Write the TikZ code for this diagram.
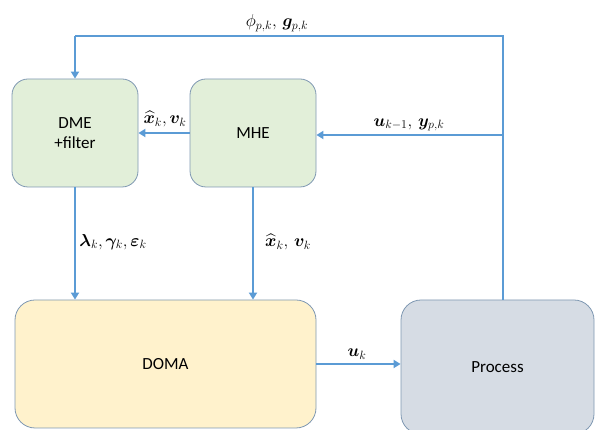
\documentclass[tikz,border=0pt]{standalone}
\usepackage{amsmath}
\usepackage{bm}
\usepackage{fontspec}
\setmainfont{Carlito}
\usetikzlibrary{arrows.meta}
\definecolor{lineblue}{HTML}{5B9BD5}
\definecolor{greenfill}{HTML}{E2EFD9}
\definecolor{yellowfill}{HTML}{FFF2CC}
\definecolor{greyfill}{HTML}{D6DCE4}
\definecolor{boxborder}{HTML}{7F98B2}
\tikzset{
  blockbox/.style={draw=boxborder, line width=0.8pt, rounded corners=16pt, align=center,
    font=\fontsize{17}{20}\selectfont, inner sep=0pt},
  conn/.style={draw=lineblue, line width=2.2pt},
  arr/.style={conn, -{Triangle[length=7pt,width=8pt]}},
  lab/.style={font=\fontsize{17}{19}\selectfont, inner sep=0pt}
}
\begin{document}
\begin{tikzpicture}[x=1pt,y=1pt]
\useasboundingbox (0,0) rectangle (595,430);
\clip (0,0) rectangle (595,430);
% boxes
\node[blockbox, fill=greenfill, minimum width=126pt, minimum height=108pt] (dme) at (75,297) {DME\\+filter};
\node[blockbox, fill=greenfill, minimum width=126pt, minimum height=108pt] (mhe) at (253,297) {MHE};
\node[blockbox, fill=yellowfill, rounded corners=20pt, minimum width=301pt, minimum height=128pt] (doma) at (165.5,66) {DOMA};
\node[blockbox, fill=greyfill, rounded corners=20pt, minimum width=193pt, minimum height=134pt] (proc) at (497.5,63) {Process};
% feedback lines
\coordinate (tr) at (503,394);
\coordinate (tl) at (75,394);
\coordinate (jn) at (503,295);
\draw[conn] (proc.north -| tr) -- (tr) -- (tl);
\draw[arr] (tl) -- (dme.north);
\draw[arr] (jn) -- (jn -| mhe.east);
\draw[arr] (mhe.west) -- (dme.east);
\draw[arr] (dme.south) -- (dme.south |- doma.north);
\draw[arr] (mhe.south) -- (mhe.south |- doma.north);
\draw[arr] (doma.east) -- (doma.east -| proc.west);
% labels
\node[lab] (lphi) at (277,407) {$\phi_{p,k},\,\bm{g}_{p,k}$};
\node[lab] (lx1) at (165,311) {$\bm{\widehat{x}}_k,\bm{v}_k$};
\node[lab] (lu1) at (409,305) {$\bm{u}_{k-1},\,\bm{y}_{p,k}$};
\node[lab] (llam) at (113,188) {$\bm{\lambda}_k,\bm{\gamma}_k,\bm{\varepsilon}_k$};
\node[lab] (lx2) at (288,188) {$\bm{\widehat{x}}_k,\,\bm{v}_k$};
\node[lab] (luk) at (357,76) {$\bm{u}_k$};
\end{tikzpicture}
\end{document}
